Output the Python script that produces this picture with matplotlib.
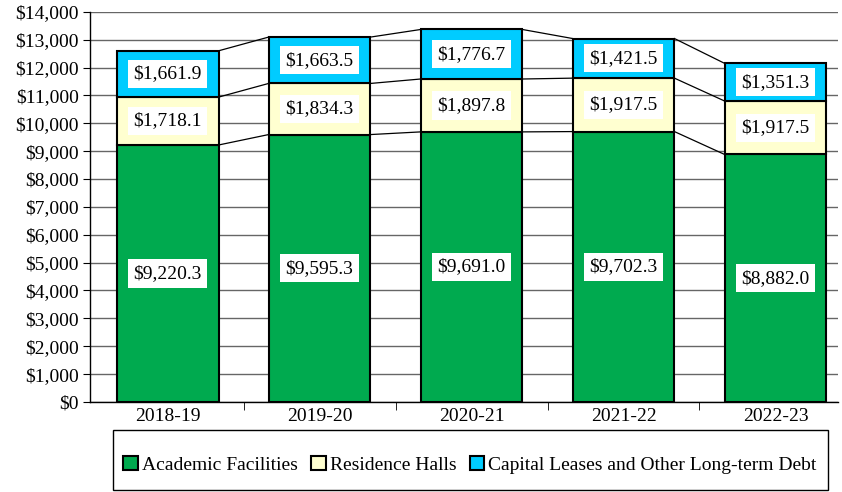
import matplotlib.pyplot as plt
from matplotlib.patches import Rectangle
import numpy as np

years = ["2018-19", "2019-20", "2020-21", "2021-22", "2022-23"]
academic = [9220.3, 9595.3, 9691.0, 9702.3, 8882.0]
residence = [1718.1, 1834.3, 1897.8, 1917.5, 1917.5]
leases = [1661.9, 1663.5, 1776.7, 1421.5, 1351.3]
series_names = ["Academic Facilities", "Residence Halls",
                "Capital Leases and Other Long-term Debt"]
colors = ["#00AA4F", "#FFFFD0", "#00CCFF"]

plt.rcParams['font.family'] = ['Liberation Serif', 'DejaVu Serif']

fig = plt.figure(figsize=(8.42, 4.92), dpi=100)
ax = fig.add_axes([0.107, 0.183, 0.888, 0.793])

x = np.arange(len(years))
width = 0.67
bottom = np.zeros(len(years))
for vals, name, col in zip([academic, residence, leases], series_names, colors):
    vals = np.array(vals)
    ax.bar(x, vals, width, bottom=bottom, color=col, edgecolor="black",
           linewidth=1.5, label=name, zorder=3)
    # connector lines between bar tops
    tops = bottom + vals
    for i in range(len(years) - 1):
        ax.plot([x[i] + width / 2, x[i + 1] - width / 2], [tops[i], tops[i + 1]],
                color="black", linewidth=0.9, zorder=2)
    for xi, b, v in zip(x, bottom, vals):
        ax.text(xi, b + v / 2, f"${v:,.1f}", ha="center", va="center",
                fontsize=14, zorder=4,
                bbox=dict(facecolor="white", edgecolor="none", pad=4))
    bottom = tops

ax.set_xlim(-0.51, 4.41)
ax.set_ylim(0, 14000)
ax.set_yticks(np.arange(0, 14001, 1000))
ax.set_yticklabels([f"${v:,}" for v in range(0, 14001, 1000)], fontsize=14)
ax.yaxis.grid(True, color="#666666", linewidth=1.0, zorder=0)
ax.set_axisbelow(True)

ax.set_xticks(x)
ax.set_xticklabels(years, fontsize=14)
ax.tick_params(axis="x", length=0, pad=4)
ax.set_xticks(np.arange(0.5, len(years) - 1, 1), minor=True)
ax.tick_params(axis="x", which="minor", length=6, direction="out")
ax.tick_params(axis="y", length=5, direction="out", pad=3)

for s in ["top", "right"]:
    ax.spines[s].set_visible(False)
ax.spines["left"].set_linewidth(1.0)
ax.spines["bottom"].set_linewidth(1.0)

fig.patches.append(Rectangle((0.134, 0.004), 0.849, 0.122, transform=fig.transFigure,
                             fill=False, edgecolor="black", linewidth=1.0))
handles, labels = ax.get_legend_handles_labels()
fig.legend(handles, labels, loc="center", bbox_to_anchor=(0.558, 0.055), ncol=3,
           frameon=False, fontsize=14, handlelength=0.75, handleheight=0.75,
           handletextpad=0.2, columnspacing=0.7)

fig.savefig("out.png", dpi=100)
